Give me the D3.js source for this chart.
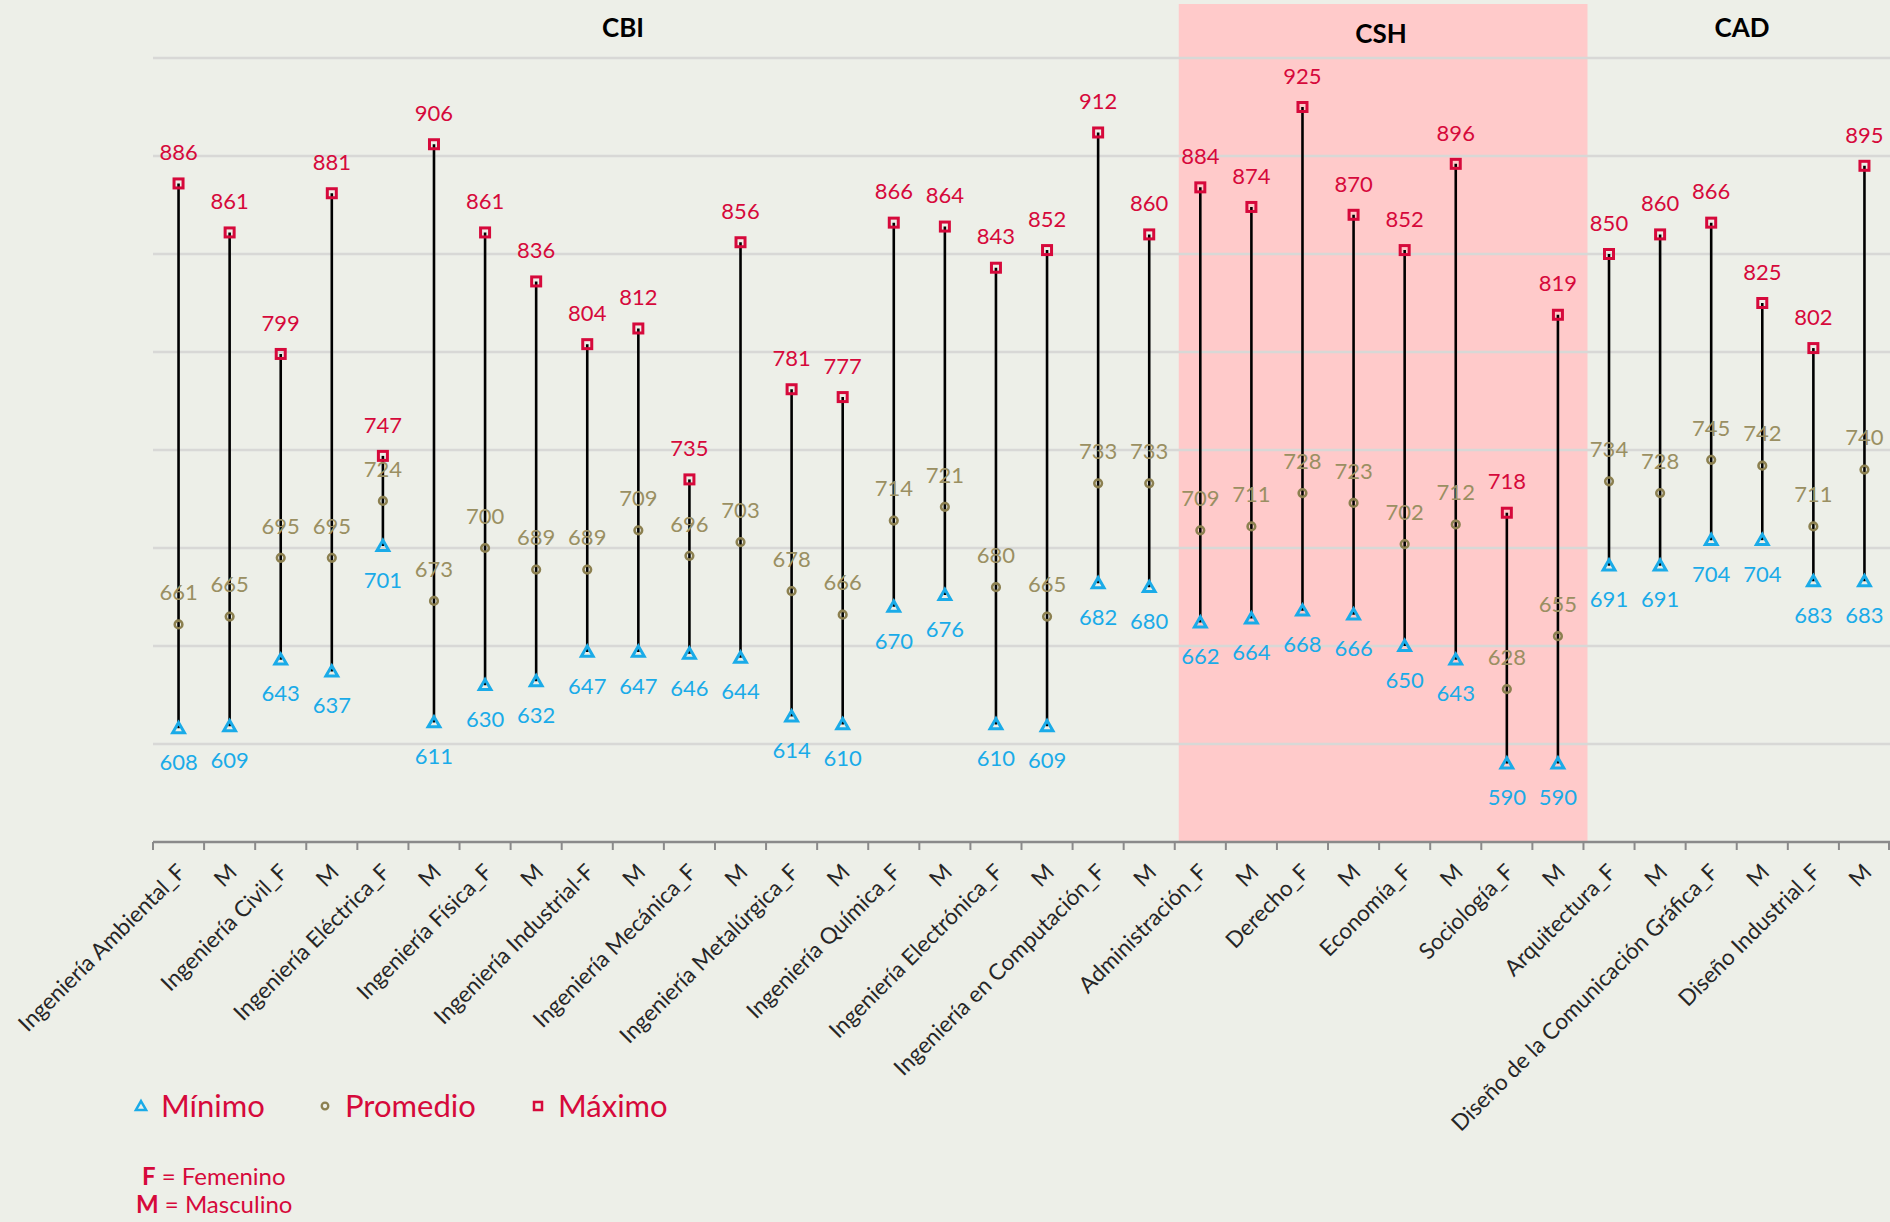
<!DOCTYPE html>
<html><head><meta charset="utf-8">
<script src="https://cdn.jsdelivr.net/npm/d3@7"></script>
<style>html,body{margin:0;padding:0;background:#EDEFE8;}</style>
</head><body>
<script>
const categories = ["Ingeniería Ambiental_F","M","Ingeniería Civil_F","M","Ingeniería Eléctrica_F","M","Ingeniería Física_F","M","Ingeniería Industrial-F","M","Ingeniería Mecánica_F","M","Ingeniería Metalúrgica_F","M","Ingeniería Química_F","M","Ingeniería Electrónica_F","M","Ingeniería en Computación_F","M","Administración_F","M","Derecho_F","M","Economía_F","M","Sociología_F","M","Arquitectura_F","M","Diseño de la Comunicación Gráfica_F","M","Diseño Industrial_F","M"];
const maximo   = [886,861,799,881,747,906,861,836,804,812,735,856,781,777,866,864,843,852,912,860,884,874,925,870,852,896,718,819,850,860,866,825,802,895];
const promedio = [661,665,695,695,724,673,700,689,689,709,696,703,678,666,714,721,680,665,733,733,709,711,728,723,702,712,628,655,734,728,745,742,711,740];
const minimo   = [608,609,643,637,701,611,630,632,647,647,646,644,614,610,670,676,610,609,682,680,662,664,668,666,650,643,590,590,691,691,704,704,683,683];
const groups = [{name:"CBI", start:0, end:19}, {name:"CSH", start:20, end:27}, {name:"CAD", start:28, end:33}];
const gridValues = [600,650,700,750,800,850,900,950];
const legendItems = ["Mínimo","Promedio","Máximo"];

const W = 1890, H = 1222;
const RED = "#D6093B", BLUE = "#1AABE8", OLIVE = "#8C8050", FONT = "Lato, 'Open Sans', sans-serif";

const svg = d3.select("body").append("svg").attr("width", W).attr("height", H)
  .style("font-family", FONT);
svg.append("rect").attr("width", W).attr("height", H).attr("fill", "#EDEFE8");

const idx = categories.map((d,i)=>i);
const x = d3.scaleBand().domain(idx).range([153, 1890]).padding(0);
const y = d3.scaleLinear().domain([550, 950]).range([842, 58]);
const cx = i => x(i) + x.bandwidth()/2;

// CSH highlight
const csh = groups[1];
svg.append("rect").attr("x", x(csh.start) + 4).attr("y", 4)
  .attr("width", x(csh.end) + x.bandwidth() - x(csh.start)).attr("height", y(550) - 4)
  .attr("fill", "#FFCACA");

// gridlines
svg.append("g").selectAll("line").data(gridValues).join("line")
  .attr("x1", 153).attr("x2", W).attr("y1", d=>y(d)).attr("y2", d=>y(d))
  .attr("stroke", "#D8D8D6").attr("stroke-width", 2.5);

// x axis
const xAxis = svg.append("g").attr("transform", `translate(0,${y(550)})`);
xAxis.append("line").attr("x1", 153).attr("x2", W).attr("stroke", "#8A8A8A").attr("stroke-width", 2.5);
xAxis.selectAll("line.tick").data(idx.concat([idx.length])).join("line").attr("class","tick")
  .attr("x1", d=> d < idx.length ? x(d) : W-1).attr("x2", d=> d < idx.length ? x(d) : W-1)
  .attr("y1", 0).attr("y2", 8).attr("stroke", "#8A8A8A").attr("stroke-width", 2);
xAxis.selectAll("text").data(idx).join("text")
  .attr("transform", d=>`translate(${cx(d)+3},${26}) rotate(-45)`)
  .attr("text-anchor", "end").attr("dy", "0.35em")
  .attr("font-size", 22.5).attr("fill", "#262626")
  .text(d=>categories[d]);

// group titles
const titlePos = {CBI:{x:623,y:28}, CSH:{x:1381,y:34}, CAD:{x:1742,y:28}};
svg.append("g").selectAll("text").data(groups).join("text")
  .attr("x", d=>titlePos[d.name].x).attr("y", d=>titlePos[d.name].y)
  .attr("dy", "0.36em").attr("text-anchor","middle")
  .attr("font-size", 26).attr("font-weight", "bold").attr("fill", "#000")
  .text(d=>d.name);

// stems
svg.append("g").selectAll("line").data(idx).join("line")
  .attr("x1", cx).attr("x2", cx).attr("y1", d=>y(minimo[d])).attr("y2", d=>y(maximo[d]))
  .attr("stroke", "#000").attr("stroke-width", 2.6);

const tri = d3.symbol().type(d3.symbolTriangle).size(60);
// min markers
svg.append("g").selectAll("path").data(idx).join("path")
  .attr("d", tri).attr("transform", d=>`translate(${cx(d)},${y(minimo[d])+1})`)
  .attr("fill", "none").attr("stroke", BLUE).attr("stroke-width", 3);
// avg markers
svg.append("g").selectAll("circle").data(idx).join("circle")
  .attr("cx", cx).attr("cy", d=>y(promedio[d])).attr("r", 3.8)
  .attr("fill", "none").attr("stroke", OLIVE).attr("stroke-width", 2.6);
// max markers
svg.append("g").selectAll("rect").data(idx).join("rect")
  .attr("x", d=>cx(d)-4.5).attr("y", d=>y(maximo[d])-4.5).attr("width", 9).attr("height", 9)
  .attr("fill", "none").attr("stroke", RED).attr("stroke-width", 3);

// labels
const lab = (vals, color, off) => svg.append("g").selectAll("text").data(idx).join("text")
  .attr("x", cx).attr("y", d=>y(vals[d]) + off).attr("dy", "0.35em")
  .attr("text-anchor","middle").attr("font-size", 22).attr("fill", color)
  .text(d=>vals[d]);
lab(maximo, RED, -31);
lab(promedio, "#9A8F62", -32);
lab(minimo, BLUE, 34);

// legend
const lg = svg.append("g");
const legX = [141, 325, 538];
const legSym = [
  g => g.append("path").attr("d", d3.symbol().type(d3.symbolTriangle).size(45)).attr("fill","none").attr("stroke",BLUE).attr("stroke-width",2.5).attr("transform","translate(0,1)"),
  g => g.append("circle").attr("r",3.3).attr("fill","none").attr("stroke",OLIVE).attr("stroke-width",2.3),
  g => g.append("rect").attr("x",-4).attr("y",-4).attr("width",8).attr("height",8).attr("fill","none").attr("stroke",RED).attr("stroke-width",2.5)
];
legendItems.forEach((t,i)=>{
  const g = lg.append("g").attr("transform", `translate(${legX[i]},1106)`);
  legSym[i](g);
  g.append("text").attr("x", 20).attr("dy","0.35em").attr("font-size", 31).attr("fill", RED).text(t);
});

// footnote
const fn = svg.append("g").attr("font-size", 24).attr("fill", RED);
const t1 = fn.append("text").attr("x", 142).attr("y", 1177).attr("dy","0.35em");
t1.append("tspan").attr("font-weight","bold").text("F");
t1.append("tspan").text(" = Femenino");
const t2 = fn.append("text").attr("x", 136).attr("y", 1205).attr("dy","0.35em");
t2.append("tspan").attr("font-weight","bold").text("M");
t2.append("tspan").text(" = Masculino");
</script>
</body></html>
